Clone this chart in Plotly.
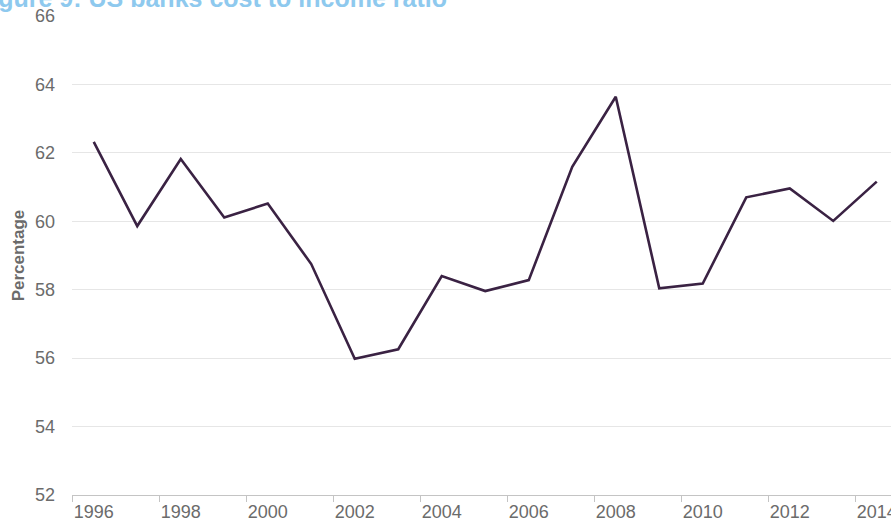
import plotly.graph_objects as go

years = [str(y) for y in range(1996, 2015)]
ratio = [62.32, 59.86, 61.82, 60.11, 60.52, 58.75, 55.98, 56.26, 58.40, 57.96,
         58.28, 61.59, 63.64, 58.04, 58.18, 60.70, 60.96, 60.01, 61.16]
y_ticks = [52, 54, 56, 58, 60, 62, 64, 66]

W, H = 891, 524
ML, MR, MT, MB = 72, 0, 16, 29
plot_w = W - ML - MR
plot_h = H - MT - MB
cat_px = 43.5
x_max = -0.5 + plot_w / cat_px

fig = go.Figure()
fig.add_trace(go.Scatter(
    x=years, y=ratio, mode="lines",
    line=dict(color="#3a2243", width=2.6),
    hoverinfo="x+y", showlegend=False,
))

fig.update_layout(
    width=W, height=H,
    margin=dict(l=ML, r=MR, t=MT, b=MB, pad=0, autoexpand=False),
    paper_bgcolor="white", plot_bgcolor="white",
    font=dict(family="Liberation Sans, Arial, sans-serif", color="#6b6b6b", size=18),
    xaxis=dict(
        type="category", range=[-0.5, x_max], dtick=2, tickangle=0, automargin=False,
        tickson="boundaries", ticks="outside", ticklen=6, tickcolor="#c4c4c4",
        showline=True, linecolor="#c4c4c4", linewidth=1.2,
        showgrid=False, zeroline=False,
        tickfont=dict(size=18, color="#6b6b6b"),
    ),
    yaxis=dict(
        range=[52, 66], tickvals=y_ticks, showgrid=True, gridcolor="#e6e6e6",
        gridwidth=1, zeroline=False, showline=False, ticks="", automargin=False,
        ticklabelstandoff=16,
        tickfont=dict(size=18, color="#6b6b6b"),
        title=dict(text="<b>Percentage</b>", font=dict(size=17, color="#6b6b6b"), standoff=6),
    ),
    annotations=[dict(
        text="<b>Figure 9: US banks cost to income ratio</b>",
        xref="paper", yref="paper",
        x=(-26) / plot_w - ML / plot_w, xanchor="left",
        y=1 + (MT + 1.75) / plot_h, yanchor="middle",
        showarrow=False, font=dict(size=25, color="#8ec9ee"),
    )],
)

fig.write_html(
    "out.html",
    config={"displayModeBar": False},
    post_script="document.body.style.margin='0';document.body.style.overflow='hidden';",
)
